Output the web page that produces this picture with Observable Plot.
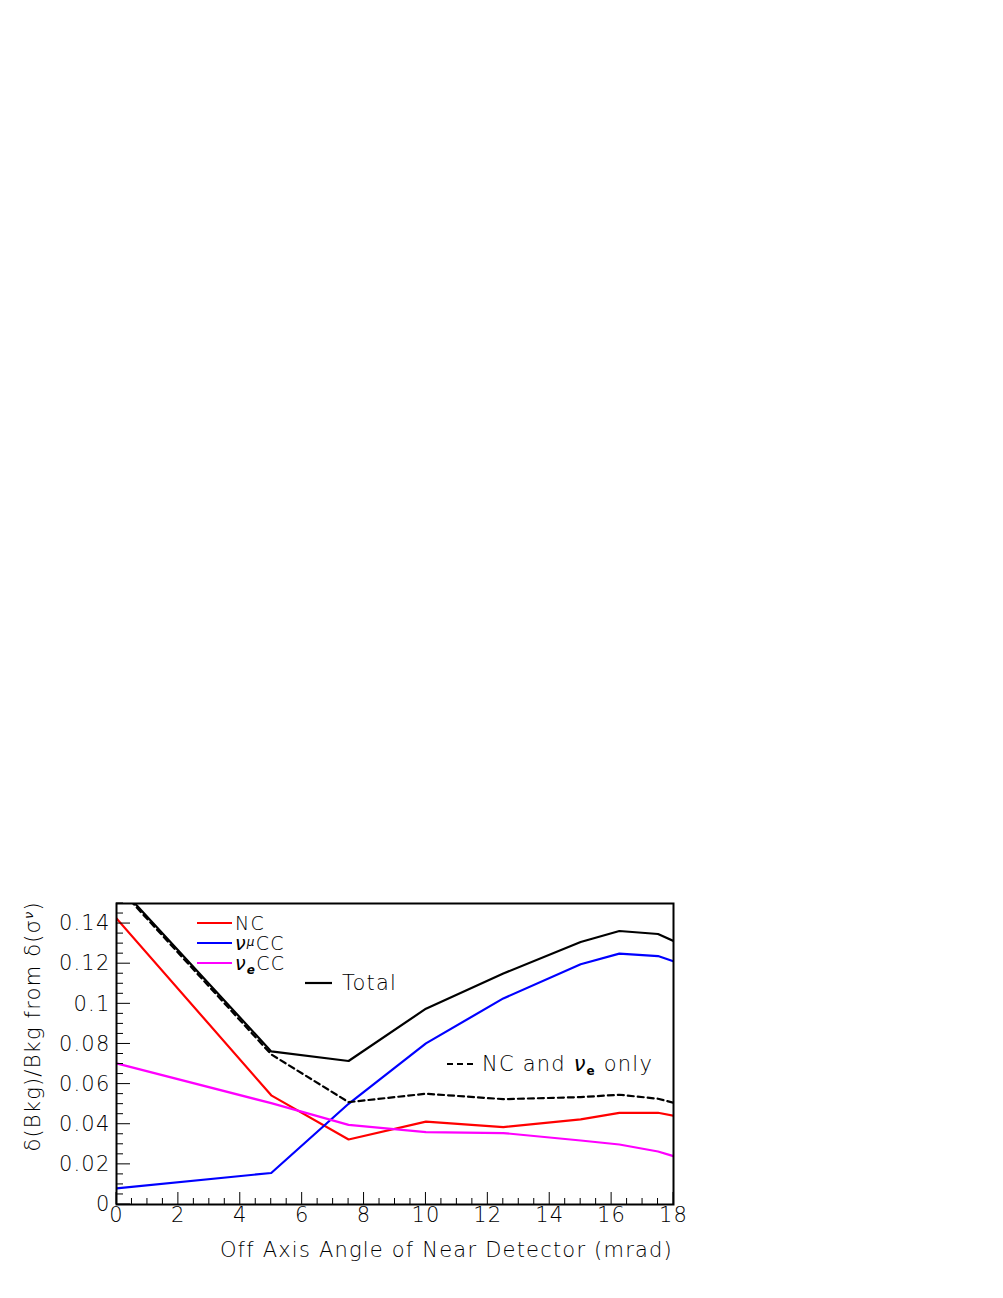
<!DOCTYPE html>
<html><head><meta charset="utf-8">
<script src="https://cdn.jsdelivr.net/npm/d3@7"></script>
<script src="https://cdn.jsdelivr.net/npm/@observablehq/plot@0.6"></script>
<style>body{margin:0;background:#fff} svg{display:block}</style>
</head><body><div id="chart"></div>
<script>
const angles    = [0, 5, 7.5, 10, 12.5, 15, 16.25, 17.5, 18];
const nc        = [0.1426, 0.0544, 0.0324, 0.0413, 0.0386, 0.0424, 0.0457, 0.0457, 0.0442];
const numuCC    = [0.0080, 0.0157, 0.0502, 0.0803, 0.1027, 0.1197, 0.1250, 0.1238, 0.1212];
const nueCC     = [0.0703, 0.0505, 0.0397, 0.0361, 0.0356, 0.0319, 0.0299, 0.0264, 0.0241];
const total     = [0.1600, 0.0763, 0.0715, 0.0976, 0.1151, 0.1308, 0.1363, 0.1348, 0.1313];
const ncNueOnly = [0.1590, 0.0748, 0.0510, 0.0552, 0.0525, 0.0535, 0.0547, 0.0527, 0.0507];
const xTicks = [0, 2, 4, 6, 8, 10, 12, 14, 16, 18];
const yTicks = [0, 0.02, 0.04, 0.06, 0.08, 0.1, 0.12, 0.14];
const yTickLabels = ["0", "0.02", "0.04", "0.06", "0.08", "0.1", "0.12", "0.14"];
const xLabel = "Off Axis Angle of Near Detector (mrad)";

const FONT = "DejaVu Sans";
const WEIGHT = 200;
const LS = "1.2px";
const mk = (ys) => angles.map((a, i) => ({x: a, y: ys[i]}));
const series = [
  {data: mk(nc), stroke: "#ff0000"},
  {data: mk(numuCC), stroke: "#0000ff"},
  {data: mk(nueCC), stroke: "#ff00ff"},
  {data: mk(total), stroke: "#000000"},
  {data: mk(ncNueOnly), stroke: "#000000", dash: "6,4"}
];

const plot = Plot.plot({
  width: 1003, height: 1298,
  marginLeft: 116, marginRight: 330, marginTop: 903, marginBottom: 94,
  style: {fontFamily: FONT, fontSize: "21px", fontWeight: WEIGHT, letterSpacing: LS, color: "#000", background: "#fff"},
  x: {domain: [0, 18]},
  y: {domain: [0, 0.15]},
  marks: [
    ...series.map(s => Plot.line(s.data, {x: "x", y: "y", stroke: s.stroke, strokeWidth: 2.2, strokeDasharray: s.dash, clip: true})),
    Plot.axisX({ticks: xTicks, tickSize: 0, tickPadding: 3, tickFormat: d => String(d), label: null, fontSize: 21}),
    Plot.axisY({ticks: yTicks, tickSize: 0, tickPadding: 6, tickFormat: d => yTickLabels[yTicks.indexOf(d)], label: null, fontSize: 21}),
    Plot.frame({stroke: "#000", strokeWidth: 2})
  ]
});
document.getElementById("chart").appendChild(plot);

const sx = plot.scale("x"), sy = plot.scale("y");
const svg = d3.select(plot);
const x0 = sx.apply(0), x1 = sx.apply(18), y0 = sy.apply(0), y1 = sy.apply(0.15);
const g = svg.append("g").attr("stroke", "#000").attr("stroke-width", 1);
// x ticks (inward)
d3.range(0, 18.001, 0.5).forEach(v => {
  const major = Math.abs(v / 2 - Math.round(v / 2)) < 1e-6;
  const X = sx.apply(v);
  g.append("line").attr("x1", X).attr("x2", X).attr("y1", y0).attr("y2", y0 - (major ? 12 : 6));
});
// y ticks (inward)
d3.range(0, 0.15001, 0.005).forEach(v => {
  const major = Math.abs(v / 0.02 - Math.round(v / 0.02)) < 1e-6;
  const Y = sy.apply(v);
  g.append("line").attr("x1", x0).attr("x2", x0 + (major ? 14 : 7)).attr("y1", Y).attr("y2", Y);
});

const txt = (sel, size = 21) => sel.attr("font-family", FONT).attr("font-size", size).attr("font-weight", WEIGHT)
  .attr("letter-spacing", LS).attr("fill", "#000");

// axis titles
txt(svg.append("text")).attr("x", x1).attr("y", y0 + 53).attr("text-anchor", "end").text(xLabel);
const yt = txt(svg.append("text")).attr("transform", `translate(${40},${y1 - 2}) rotate(-90)`)
  .attr("text-anchor", "end");
yt.append("tspan").text("δ(Bkg)/Bkg from δ(σ");
yt.append("tspan").attr("baseline-shift", "super").attr("font-size", 13).attr("font-style", "italic").text("ν");
yt.append("tspan").text(")");

// legend
const leg = txt(svg.append("g"), 19).attr("text-anchor", "start");
function legLine(xa, xb, yy, color, dash) {
  leg.append("line").attr("x1", xa).attr("x2", xb).attr("y1", yy).attr("y2", yy)
    .attr("stroke", color).attr("stroke-width", 2.2).attr("stroke-dasharray", dash || null);
}
legLine(x0 + 81, x0 + 116, y1 + 20, "#ff0000");
legLine(x0 + 81, x0 + 116, y1 + 40, "#0000ff");
legLine(x0 + 81, x0 + 116, y1 + 60, "#ff00ff");
legLine(x0 + 189, x0 + 216, y1 + 80, "#000");
legLine(x0 + 331, x0 + 357, y1 + 161, "#000", "6,4");
function legText(xx, yy, parts, size) {
  const t = leg.append("text").attr("x", xx).attr("y", yy).attr("dy", "0.35em").attr("text-anchor", "start");
  if (size) t.attr("font-size", size);
  parts.forEach(p => {
    const s = t.append("tspan").text(p.t);
    if (p.style) s.attr("font-style", p.style);
    if (p.shift) s.attr("baseline-shift", p.shift).attr("font-size", p.size || 12);
    if (p.weight) s.attr("font-weight", p.weight);
  });
}
legText(x0 + 119, y1 + 20, [{t: "NC"}]);
legText(x0 + 119, y1 + 40, [{t: "ν", style: "italic"}, {t: "μ", style: "italic", shift: "35%"}, {t: "CC"}]);
legText(x0 + 119, y1 + 60, [{t: "ν", style: "italic"}, {t: "e", style: "italic", shift: "-30%", weight: "bold"}, {t: "CC"}]);
legText(x0 + 226, y1 + 80, [{t: "Total"}], 21);
legText(x0 + 366, y1 + 161, [{t: "NC and "}, {t: "ν", style: "italic"}, {t: "e", shift: "-35%", weight: "bold"}, {t: " only"}], 21);
</script>
</body></html>
